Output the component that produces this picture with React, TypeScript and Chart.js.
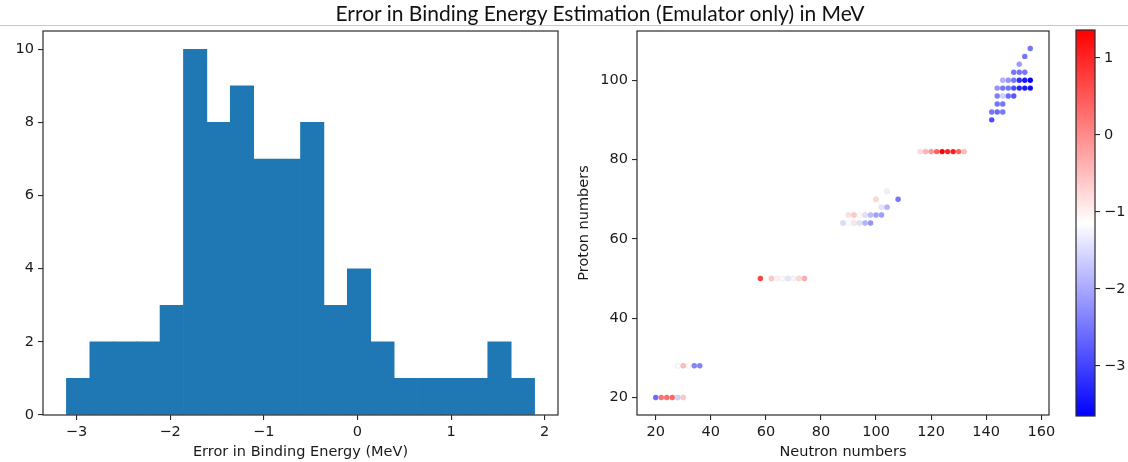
import React, { useEffect, useRef } from "react";
import { Chart, registerables } from "chart.js";
Chart.register(...registerables);

// ---------- Histogram data ----------
const binEdges = [
  -3.108, -2.858, -2.608, -2.358, -2.108, -1.858, -1.608, -1.358, -1.108, -0.858,
  -0.608, -0.358, -0.108, 0.142, 0.392, 0.642, 0.892, 1.142, 1.392, 1.642, 1.892,
];
const binCounts = [1, 2, 2, 2, 3, 10, 8, 9, 7, 7, 8, 3, 4, 2, 1, 1, 1, 1, 2, 1];

// ---------- Scatter data (neutrons, protons, error in MeV) ----------
const neutrons = [
  20, 22, 24, 26, 28, 30,
  28, 30, 32, 34, 36,
  58, 62, 64, 66, 68, 70, 72, 74,
  88, 90, 92, 94, 96, 98,
  90, 92, 94, 96, 98, 100, 102,
  102, 104,
  100, 108,
  104,
  116, 118, 120, 122, 124, 126, 128, 130, 132,
  142,
  142, 144, 146,
  144, 146,
  144, 146, 148, 150,
  144, 146, 148, 150, 152, 154, 156,
  146, 148, 150, 152, 154, 156,
  150, 152, 154,
  152,
  154,
  156,
];
const protons = [
  20, 20, 20, 20, 20, 20,
  28, 28, 28, 28, 28,
  50, 50, 50, 50, 50, 50, 50, 50,
  64, 64, 64, 64, 64, 64,
  66, 66, 66, 66, 66, 66, 66,
  68, 68,
  70, 70,
  72,
  82, 82, 82, 82, 82, 82, 82, 82, 82,
  90,
  92, 92, 92,
  94, 94,
  96, 96, 96, 96,
  98, 98, 98, 98, 98, 98, 98,
  100, 100, 100, 100, 100, 100,
  102, 102, 102,
  104,
  106,
  108,
];
const errors = [
  -2.6, 0.25, 0.3, 0.35, -1.6, -0.6,
  -1.2, -0.5, -1.1, -2.35, -2.35,
  0.7, -0.6, -1.0, -1.2, -1.4, -1.25, -0.75, -0.35,
  -1.5, -1.15, -0.9, -1.45, -1.9, -2.2,
  -0.85, -0.6, -1.1, -1.45, -1.8, -2.1, -2.1,
  -1.4, -1.9,
  -0.75, -2.5,
  -1.3,
  -0.8, -0.4, -0.1, 0.4, 1.36, 1.0, 1.1, 0.4, -0.5,
  -2.9,
  -2.5, -2.6, -2.5,
  -2.5, -2.5,
  -2.4, -1.6, -2.6, -2.8,
  -2.2, -2.5, -2.5, -2.9, -3.3, -3.4, -3.5,
  -1.9, -2.2, -2.5, -3.2, -3.4, -3.65,
  -2.5, -2.5, -2.5,
  -2.1,
  -2.5,
  -2.5,
];

const TICK_FONT = { family: "'DejaVu Sans'", size: 14.5 };
const TEXT_COLOR = "#1a1a1a";
const SPINE = "#2a2a2a";

const minus = (v: any) => String(v).replace("-", "\u2212");

function bwr(v: number, vmin: number, vmax: number) {
  const t = Math.max(0, Math.min(1, (v - vmin) / (vmax - vmin)));
  let r: number, g: number, b: number;
  if (t < 0.5) {
    const s = t / 0.5;
    r = s; g = s; b = 1;
  } else {
    const s = (t - 0.5) / 0.5;
    r = 1; g = 1 - s; b = 1 - s;
  }
  return `rgb(${Math.round(r * 255)},${Math.round(g * 255)},${Math.round(b * 255)})`;
}

const framePlugin = {
  id: "frame",
  afterDraw(chart: any) {
    const { ctx, chartArea: a } = chart;
    ctx.save();
    ctx.strokeStyle = SPINE;
    ctx.lineWidth = 1.2;
    ctx.strokeRect(a.left, a.top, a.right - a.left, a.bottom - a.top);
    ctx.restore();
  },
};

const tickGrid = {
  display: true,
  drawOnChartArea: false,
  drawTicks: true,
  tickLength: 5,
  color: SPINE,
  lineWidth: 1.1,
};

export default function App() {
  const histRef = useRef<HTMLCanvasElement>(null);
  const scatRef = useRef<HTMLCanvasElement>(null);
  const cbRef = useRef<HTMLCanvasElement>(null);

  useEffect(() => {
    const vmin = Math.min(...errors);
    const vmax = Math.max(...errors);

    const histData = binCounts.map((c, i) => ({ x: (binEdges[i] + binEdges[i + 1]) / 2, y: c }));

    const hist = new Chart(histRef.current!, {
      type: "bar",
      data: {
        datasets: [
          {
            data: histData as any,
            backgroundColor: "#1f77b4",
            borderWidth: 0,
            barPercentage: 1,
            categoryPercentage: 1,
          },
        ],
      },
      options: {
        animation: false,
        responsive: false,
        layout: { padding: { left: 0, top: 31, right: 12, bottom: 0 } },
        plugins: { legend: { display: false }, tooltip: { enabled: false } },
        scales: {
          x: {
            type: "linear",
            min: -3.358,
            max: 2.142,
            offset: false,
            grid: { ...tickGrid, offset: false },
            border: { display: false },
            ticks: { stepSize: 1, includeBounds: false, font: TICK_FONT, color: TEXT_COLOR, padding: 4, callback: minus, maxRotation: 0 },
            title: { display: true, text: "Error in Binding Energy (MeV)", font: TICK_FONT, color: TEXT_COLOR, padding: { top: 0, bottom: 1.5 } },
            afterFit: (s: any) => { s.height = 47; },
          },
          y: {
            type: "linear",
            min: 0,
            max: 10.5,
            grid: tickGrid,
            border: { display: false },
            ticks: { stepSize: 2, includeBounds: false, font: TICK_FONT, color: TEXT_COLOR, padding: 4 },
            afterFit: (s: any) => { s.width = 43; },
          },
        },
      },
      plugins: [framePlugin],
    });

    const scatData = neutrons.map((n, i) => ({ x: n, y: protons[i] }));
    const colors = errors.map((e) => bwr(e, vmin, vmax));

    const scat = new Chart(scatRef.current!, {
      type: "scatter",
      data: {
        datasets: [
          {
            data: scatData,
            pointBackgroundColor: colors,
            pointBorderColor: "rgba(150,150,150,0.18)",
            pointBorderWidth: 0.6,
            pointRadius: 2.7,
          },
        ],
      },
      options: {
        animation: false,
        responsive: false,
        layout: { padding: { left: 0, top: 31, right: 21, bottom: 0 } },
        plugins: { legend: { display: false }, tooltip: { enabled: false } },
        scales: {
          x: {
            type: "linear",
            min: 13.2,
            max: 162.8,
            grid: tickGrid,
            border: { display: false },
            ticks: { stepSize: 20, includeBounds: false, font: TICK_FONT, color: TEXT_COLOR, padding: 4, maxRotation: 0 },
            title: { display: true, text: "Neutron numbers", font: TICK_FONT, color: TEXT_COLOR, padding: { top: 0, bottom: 1.5 } },
            afterFit: (s: any) => { s.height = 47; },
          },
          y: {
            type: "linear",
            min: 15.6,
            max: 112.4,
            grid: tickGrid,
            border: { display: false },
            ticks: { stepSize: 20, includeBounds: false, font: TICK_FONT, color: TEXT_COLOR, padding: 4 },
            title: { display: true, text: "Proton numbers", font: TICK_FONT, color: TEXT_COLOR, padding: { top: 5.5, bottom: 0 } },
            afterFit: (s: any) => { s.width = 67; },
          },
        },
      },
      plugins: [framePlugin],
    });

    const cb = new Chart(cbRef.current!, {
      type: "bar",
      data: {
        labels: [""],
        datasets: [
          {
            data: [[vmin, vmax]] as any,
            borderWidth: 0,
            barPercentage: 1,
            categoryPercentage: 1,
            backgroundColor: (ctx: any) => {
              const area = ctx.chart.chartArea;
              if (!area) return "#fff";
              const g = ctx.chart.ctx.createLinearGradient(0, area.bottom, 0, area.top);
              g.addColorStop(0, "rgb(0,0,255)");
              g.addColorStop(0.5, "rgb(255,255,255)");
              g.addColorStop(1, "rgb(255,0,0)");
              return g;
            },
          },
        ],
      },
      options: {
        animation: false,
        responsive: false,
        layout: { padding: { left: 6, top: 30, right: 0, bottom: 46 } },
        plugins: { legend: { display: false }, tooltip: { enabled: false } },
        scales: {
          x: { display: false },
          y: {
            type: "linear",
            position: "right",
            min: vmin,
            max: vmax,
            grid: tickGrid,
            border: { display: false },
            ticks: { stepSize: 1, includeBounds: false, font: TICK_FONT, color: TEXT_COLOR, padding: 4, callback: minus },
            afterFit: (s: any) => { s.width = 33; },
          },
        },
      },
      plugins: [framePlugin],
    });

    return () => {
      hist.destroy();
      scat.destroy();
      cb.destroy();
    };
  }, []);

  return (
    <div style={{ position: "fixed", left: 0, top: 0, width: 1128, height: 462, background: "#fff", overflow: "hidden" }}>
      <canvas ref={histRef} width={570} height={462} style={{ position: "absolute", left: 0, top: 0 }} />
      <canvas ref={scatRef} width={500} height={462} style={{ position: "absolute", left: 570, top: 0 }} />
      <canvas ref={cbRef} width={58} height={462} style={{ position: "absolute", left: 1070, top: 0 }} />
      <div style={{ position: "absolute", left: 0, top: 25, width: 1128, height: 1, background: "#c8c8c8" }} />
      <div
        style={{
          position: "absolute",
          left: 0,
          top: 1,
          width: 1200,
          textAlign: "center",
          fontFamily: "Lato, 'Noto Sans', sans-serif",
          fontSize: 21,
          lineHeight: "24px",
          color: "#111",
          whiteSpace: "nowrap",
        }}
      >
        Error in Binding Energy Estimation (Emulator only) in MeV
      </div>
    </div>
  );
}
